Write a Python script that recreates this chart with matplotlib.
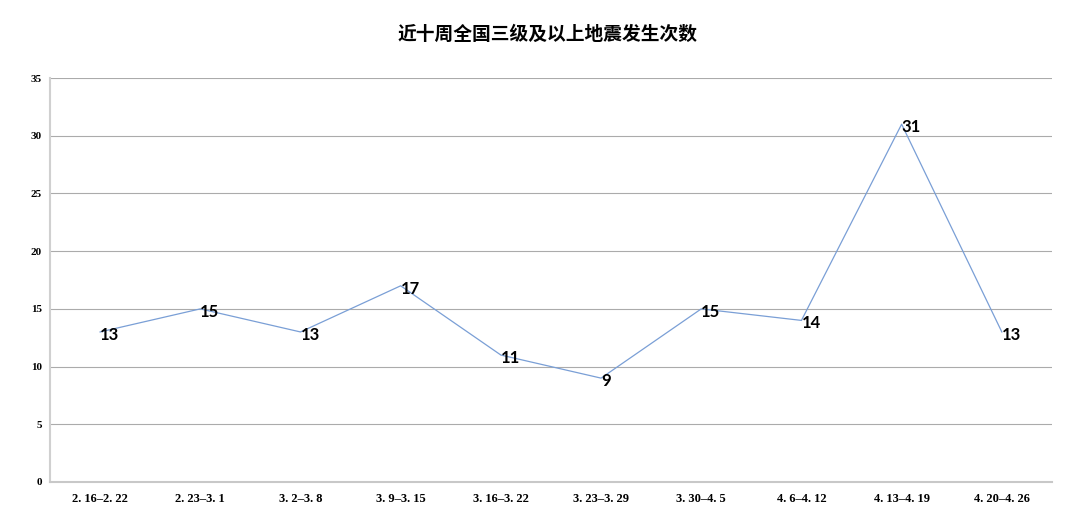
import matplotlib
matplotlib.use("Agg")
import matplotlib.pyplot as plt

# weekly quake counts, magnitude 3+
weeks = ["2. 16–2. 22", "2. 23–3. 1", "3. 2–3. 8", "3. 9–3. 15", "3. 16–3. 22",
         "3. 23–3. 29", "3. 30–4. 5", "4. 6–4. 12", "4. 13–4. 19", "4. 20–4. 26"]
counts = [13, 15, 13, 17, 11, 9, 15, 14, 31, 13]
yticks = [0, 5, 10, 15, 20, 25, 30, 35]
title = "近十周全国三级及以上地震发生次数"

fig = plt.figure(figsize=(10.8, 5.31), dpi=100)
ax = fig.add_axes([0.0463, 0.0923, 0.9277, 0.7607])

x = list(range(len(weeks)))
ax.plot(x, counts, color="#7a9fd6", lw=0.9)
for xi, v in zip(x, counts):
    ax.annotate(str(v), (xi, v), xytext=(0, -2), textcoords="offset points",
                ha="left", va="center", fontsize=12, fontweight="bold",
                family=["Lato", "DejaVu Sans"])

ax.set_xlim(-0.5, len(weeks) - 0.5)
ax.set_ylim(0, 35)
ax.set_yticks(yticks)
ax.set_xticks(x)
ax.set_xticklabels(weeks, family="Liberation Serif", fontweight="bold", fontsize=9)
ax.set_yticklabels([str(t) for t in yticks], family="Liberation Serif", fontweight="bold", fontsize=8)
ax.tick_params(length=0, pad=8)
ax.tick_params(axis="y", pad=6)
ax.grid(axis="y", color="#ababab", lw=0.8)
ax.set_axisbelow(True)
for s in ["top", "right"]:
    ax.spines[s].set_visible(False)
ax.spines["left"].set_color("#d0d0d0")
ax.spines["left"].set_linewidth(1.5)
ax.spines["bottom"].set_color("#c8c8c8")
ax.spines["bottom"].set_linewidth(1.5)

fig.text(0.507, 0.935, title, ha="center", va="center", fontsize=13.5, fontweight="bold",
         family=["Noto Sans CJK SC", "DejaVu Sans"])

fig.savefig("out.png", dpi=100)
